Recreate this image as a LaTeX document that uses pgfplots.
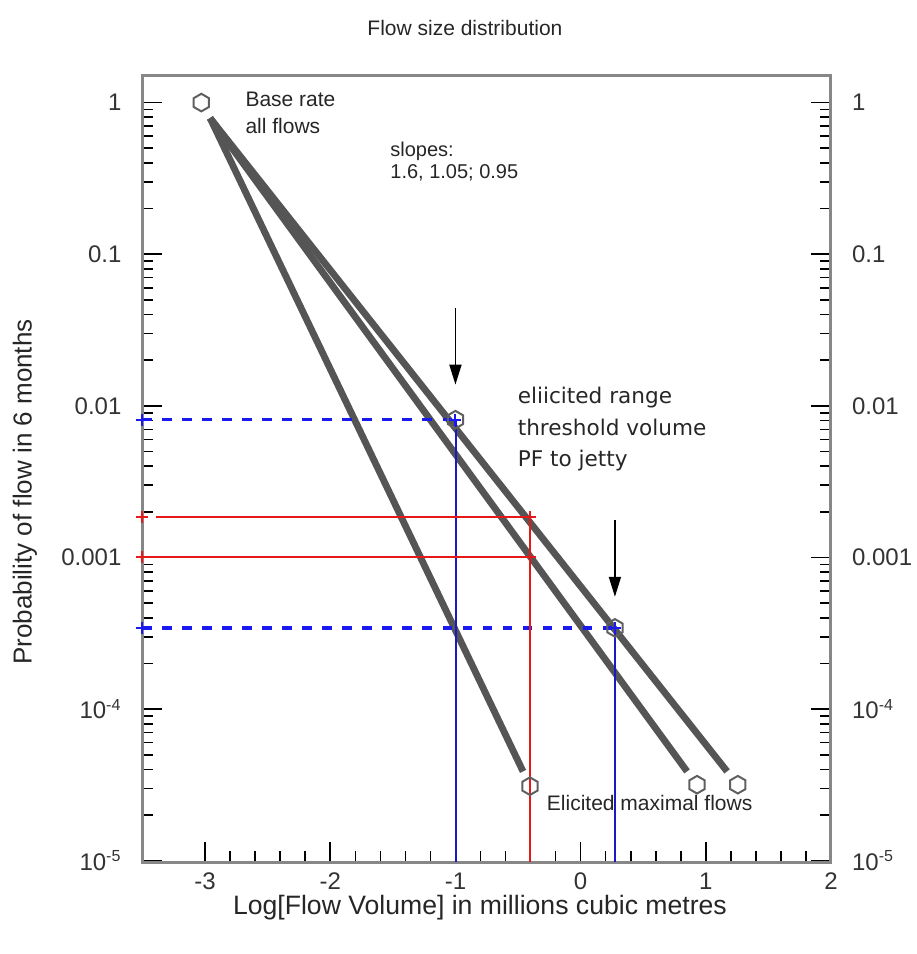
\documentclass[border=0pt]{standalone}
\usepackage{fontspec}
\setmainfont{Liberation Sans}
\newfontfamily\dejavu{DejaVu Sans}
\usepackage{pgfplots}
\pgfplotsset{compat=1.18}
\usetikzlibrary{arrows.meta}

\definecolor{lg}{RGB}{85,85,85}
\definecolor{fr}{RGB}{135,135,135}
\definecolor{bl}{RGB}{25,25,240}
\definecolor{nv}{RGB}{25,25,200}
\definecolor{rd}{RGB}{230,25,25}
\definecolor{hx}{RGB}{95,95,95}

\pgfdeclareplotmark{hexagon}{%
 \pgfpathmoveto{\pgfqpointpolar{90}{\pgfplotmarksize}}%
 \pgfpathlineto{\pgfqpointpolar{150}{\pgfplotmarksize}}%
 \pgfpathlineto{\pgfqpointpolar{210}{\pgfplotmarksize}}%
 \pgfpathlineto{\pgfqpointpolar{270}{\pgfplotmarksize}}%
 \pgfpathlineto{\pgfqpointpolar{330}{\pgfplotmarksize}}%
 \pgfpathlineto{\pgfqpointpolar{30}{\pgfplotmarksize}}%
 \pgfpathclose\pgfusepathqstroke}

\begin{document}
\begin{tikzpicture}
\begin{axis}[name=main,
  scale only axis, width=344.25pt, height=393.5pt,
  xmin=-3.5, xmax=2, ymode=log, ymin=0.98e-5, ymax=1.52,
  ytick={1,0.1,0.01,0.001,1e-4,1e-5},
  yticklabels={1,0.1,0.01,0.001,10\textsuperscript{-4},10\textsuperscript{-5}},
  tick label style={font=\fontsize{12}{14}\selectfont, text=black!80},
  yticklabel shift=7pt,
  clip=false,
  xtick={-3,-2,-1,0,1,2}, xticklabels={-3,-2,-1,0,1,2},
  minor x tick num=4,
  minor ytick={2e-5,3e-5,4e-5,5e-5,6e-5,7e-5,8e-5,9e-5,
               2e-4,3e-4,4e-4,5e-4,6e-4,7e-4,8e-4,9e-4,
               2e-3,3e-3,4e-3,5e-3,6e-3,7e-3,8e-3,9e-3,
               0.02,0.03,0.04,0.05,0.06,0.07,0.08,0.09,
               0.2,0.3,0.4,0.5,0.6,0.7,0.8,0.9},
  xtick pos=bottom, ytick pos=both, yticklabel pos=left,
  tick align=inside,
  major tick length=10pt, minor tick length=5.5pt,
  every tick/.style={black, line width=0.8pt},
  axis line style={fr, line width=1.5pt},
  xticklabel shift=2pt,
]
% grey power-law lines
\addplot[lg, line width=3.4pt] coordinates {(-2.96,0.79) (-0.46,3.88e-5)};
\addplot[lg, line width=3.4pt] coordinates {(-2.96,0.79) (0.85,3.88e-5)};
\addplot[lg, line width=3.4pt] coordinates {(-2.96,0.79) (1.17,3.88e-5)};
% blue dashed thresholds
\addplot[bl, line width=1.75pt, dash pattern=on 4.7pt off 5.3pt] coordinates {(-3.5,8.1e-3) (-1,8.1e-3)};
\addplot[bl, line width=1.75pt, dash pattern=on 4.7pt off 5.3pt] coordinates {(-3.5,3.43e-4) (0.274,3.43e-4)};
% blue verticals
\addplot[nv, line width=0.85pt] coordinates {(-0.996,0.98e-5) (-0.996,8.1e-3)};
\addplot[nv, line width=0.85pt] coordinates {(0.274,0.98e-5) (0.274,3.43e-4)};
% red lines
\addplot[rd, line width=0.9pt] coordinates {(-3.39,1.84e-3) (-0.405,1.84e-3)};
\addplot[rd, line width=0.9pt] coordinates {(-3.5,1.0076e-3) (-0.405,1.0076e-3)};
\addplot[rd, line width=0.9pt] coordinates {(-0.405,0.98e-5) (-0.405,1.84e-3)};
% hexagon markers
\addplot[only marks, mark=hexagon, mark size=4.4pt, mark options={draw=hx, line width=1pt}]
  coordinates {(-3.03,1) (-0.405,3.1e-5) (0.93,3.17e-5) (1.256,3.17e-5) (-1,8.1e-3) (0.274,3.43e-4)};
% plus markers
\addplot[rd, only marks, mark=+, mark size=3pt, mark options={line width=1pt}]
  coordinates {(-3.5,1.84e-3) (-3.5,1e-3) (-0.405,1.84e-3) (-0.405,1e-3)};
\addplot[bl, only marks, mark=+, mark size=3pt, mark options={line width=1pt}]
  coordinates {(-3.5,8.1e-3) (-3.5,3.43e-4) (-1,8.1e-3) (0.274,3.43e-4)};
% arrows
\addplot[black, line width=0.9pt, -{Triangle[length=10pt,width=6pt]}] coordinates {(-1,0.0443) (-1,0.0138)};
\addplot[black, line width=0.9pt, -{Triangle[length=10pt,width=6pt]}] coordinates {(0.274,1.77e-3) (0.274,5.5e-4)};
% annotations
\node[anchor=base west, inner sep=0pt, font=\fontsize{10.5}{12}\selectfont, text=black!85] at (axis cs:-2.68,0.94) {Base rate};
\node[anchor=base west, inner sep=0pt, font=\fontsize{10.5}{12}\selectfont, text=black!85] at (axis cs:-2.68,0.628) {all flows};
\node[anchor=base west, inner sep=0pt, font=\fontsize{10}{12}\selectfont, text=black!85] at (axis cs:-1.523,0.444) {slopes:};
\node[anchor=base west, inner sep=0pt, font=\fontsize{10}{12}\selectfont, text=black!85] at (axis cs:-1.523,0.318) {1.6, 1.05; 0.95};
\node[anchor=base west, inner sep=0pt, font=\dejavu\fontsize{10.8}{13}\selectfont, text=black!85] at (axis cs:-0.505,0.0103) {eliicited range};
\node[anchor=base west, inner sep=0pt, font=\dejavu\fontsize{10.8}{13}\selectfont, text=black!85] at (axis cs:-0.505,6.34e-3) {threshold volume};
\node[anchor=base west, inner sep=0pt, font=\dejavu\fontsize{10.8}{13}\selectfont, text=black!85] at (axis cs:-0.505,3.98e-3) {PF to jetty};
\node[anchor=base west, inner sep=0pt, font=\fontsize{10.5}{12}\selectfont, text=black!85] at (axis cs:-0.272,2.15e-5) {Elicited maximal flows};
\end{axis}
\begin{axis}[
  scale only axis, width=344.25pt, height=393.5pt,
  xmin=-3.5, xmax=2, ymode=log, ymin=0.98e-5, ymax=1.52,
  ytick={1,0.1,0.01,0.001,1e-4,1e-5},
  yticklabels={1,0.1,0.01,0.001,10\textsuperscript{-4},10\textsuperscript{-5}},
  tick label style={font=\fontsize{12}{14}\selectfont, text=black!80},
  yticklabel shift=7pt,
  xtick=\empty, minor ytick={}, yticklabel pos=right, ytick pos=right,
  major tick length=0pt, axis line style={draw=none},
]
\end{axis}
\node[font=\fontsize{10.5}{12}\selectfont, text=black!85] at ([xshift=-10.9pt, yshift=23.5pt]main.north) {Flow size distribution};
\node[font=\fontsize{13.3}{15}\selectfont, text=black!85] at ([xshift=-3.4pt, yshift=-23pt]main.south) {Log[Flow Volume] in millions cubic metres};
\node[rotate=90, font=\fontsize{13}{15}\selectfont, text=black!85] at ([xshift=-58.75pt, yshift=-11.75pt]main.west) {Probability of flow in 6 months};
\pgfresetboundingbox
\path ([shift={(-71.25pt,-46pt)}]main.south west) rectangle ([shift={(43pt,37.5pt)}]main.north east);
\end{tikzpicture}
\end{document}
